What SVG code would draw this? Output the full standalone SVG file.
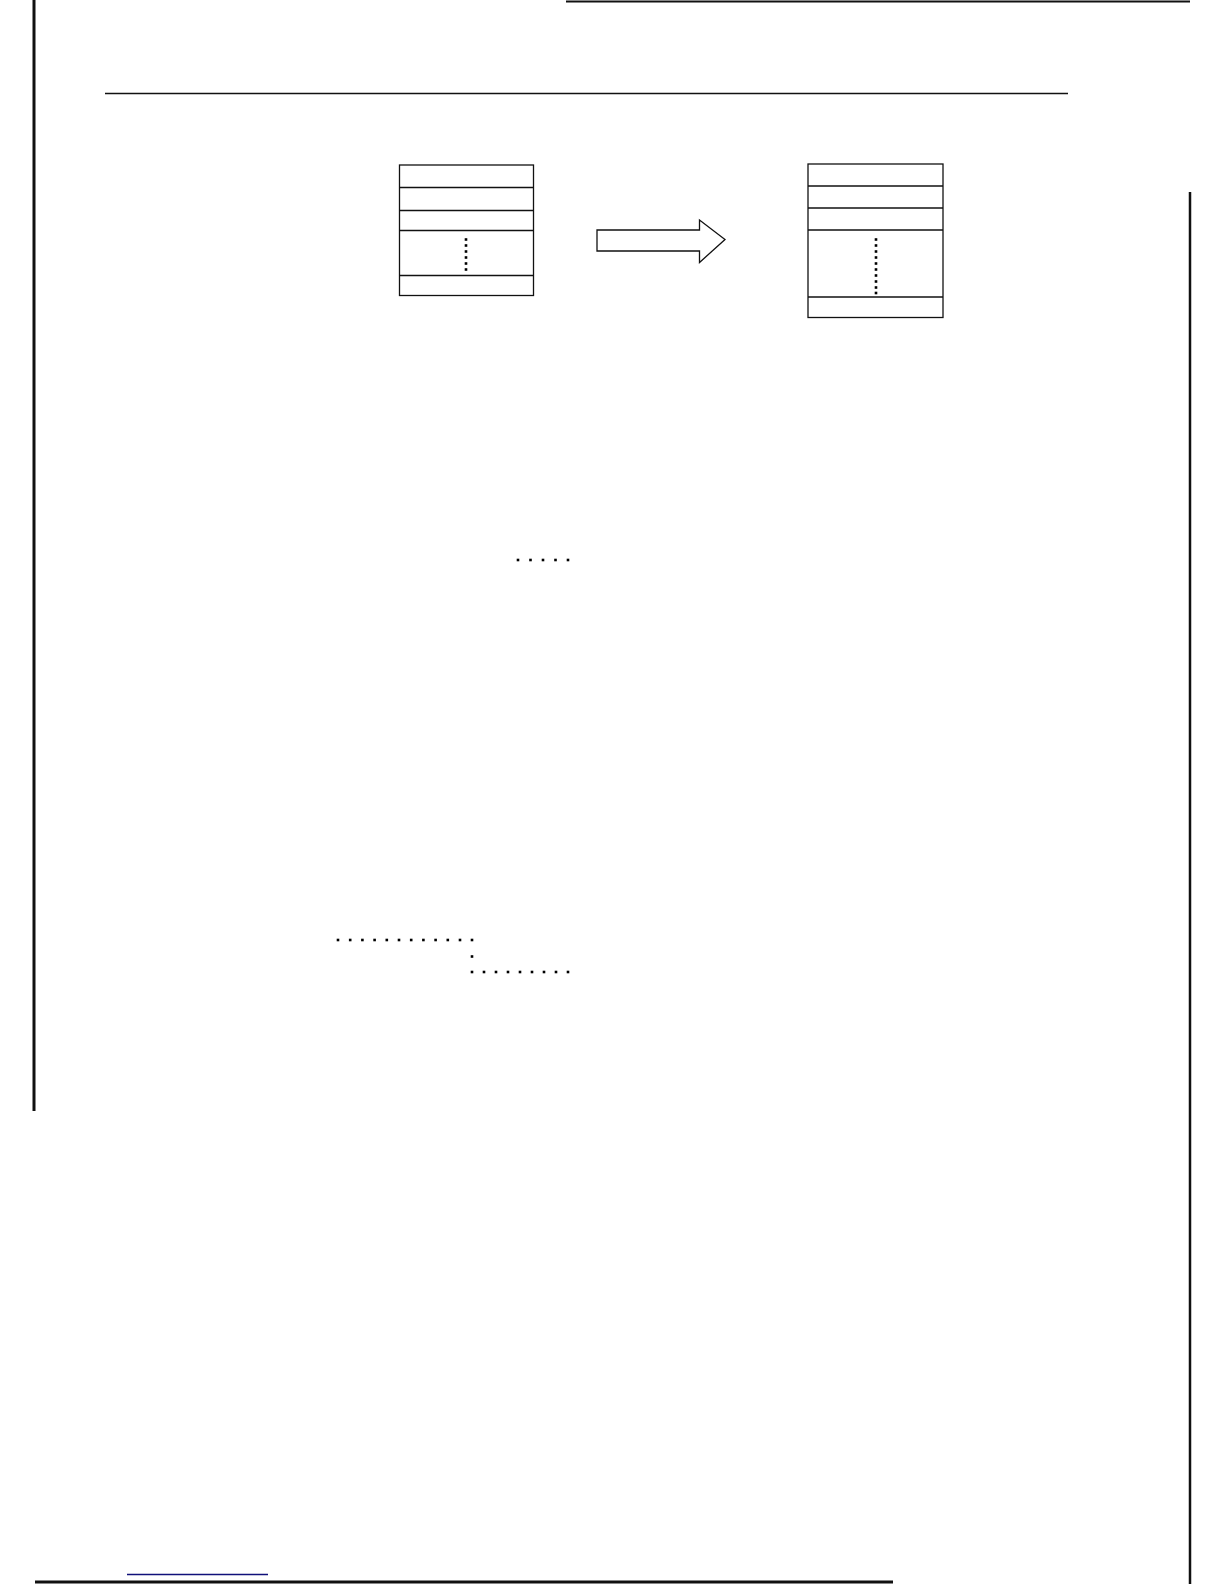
<svg xmlns="http://www.w3.org/2000/svg" width="1224" height="1584" viewBox="0 0 1224 1584">
  <style>
    .box { fill: #ffffff; stroke: #111111; stroke-width: 1.3; }
    .sep { stroke: #111111; stroke-width: 1.3; }
    .dot { fill: #000000; }
    .rule { stroke: #111111; fill: none; }
  </style>
  <defs>
    <rect id="d" class="dot" x="-1.3" y="-1.3" width="2.6" height="2.6"/>
  </defs>
  <rect width="1224" height="1584" fill="#ffffff"/>

  <g id="page-frame">
    <line class="rule" x1="34" y1="0" x2="34" y2="1111" stroke-width="3"/>
    <line class="rule" x1="566" y1="1.5" x2="1190" y2="1.5" stroke-width="2"/>
    <line class="rule" x1="105" y1="93.5" x2="1068" y2="93.5" stroke-width="1.3"/>
    <line class="rule" x1="1190" y1="192" x2="1190" y2="1584" stroke-width="2.5"/>
    <line class="rule" x1="35" y1="1582" x2="893" y2="1582" stroke-width="3"/>
    <line x1="127" y1="1574.5" x2="268" y2="1574.5" stroke="#10107a" stroke-width="1.6"/>
  </g>

  <g id="box-left">
    <rect class="box" x="399.5" y="165" width="134" height="130.5"/>
    <line class="sep" x1="399.5" y1="187.5" x2="533.5" y2="187.5"/>
    <line class="sep" x1="399.5" y1="210.5" x2="533.5" y2="210.5"/>
    <line class="sep" x1="399.5" y1="230.5" x2="533.5" y2="230.5"/>
    <line class="sep" x1="399.5" y1="275.5" x2="533.5" y2="275.5"/>
    <g transform="translate(466,0)">
      <use href="#d" y="239.5"/><use href="#d" y="245.5"/><use href="#d" y="251.5"/>
      <use href="#d" y="257.5"/><use href="#d" y="263.5"/><use href="#d" y="269.5"/>
    </g>
  </g>

  <g id="box-right">
    <rect class="box" x="808" y="164" width="135" height="153.5"/>
    <line class="sep" x1="808" y1="186" x2="943" y2="186"/>
    <line class="sep" x1="808" y1="208" x2="943" y2="208"/>
    <line class="sep" x1="808" y1="230" x2="943" y2="230"/>
    <line class="sep" x1="808" y1="297" x2="943" y2="297"/>
    <g transform="translate(876,0)">
      <use href="#d" y="239.5"/><use href="#d" y="245.5"/><use href="#d" y="251.5"/>
      <use href="#d" y="257.5"/><use href="#d" y="263.5"/><use href="#d" y="269.5"/>
      <use href="#d" y="275.5"/><use href="#d" y="281.5"/><use href="#d" y="287.5"/>
      <use href="#d" y="293"/>
    </g>
  </g>

  <g id="connectors">
    <polygon points="597,230 699.5,230 699.5,220 725,239.5 699.5,262.5 699.5,251 597,251" fill="#ffffff" stroke="#111111" stroke-width="1.3" stroke-linejoin="miter"/>
  </g>

  <g id="leader-dots">
    <g transform="translate(0,560)">
      <use href="#d" x="518"/><use href="#d" x="530.5"/><use href="#d" x="543"/><use href="#d" x="555.5"/><use href="#d" x="568"/>
    </g>
    <g transform="translate(0,940)">
      <use href="#d" x="338"/><use href="#d" x="350.2"/><use href="#d" x="362.4"/><use href="#d" x="374.6"/>
      <use href="#d" x="386.8"/><use href="#d" x="399"/><use href="#d" x="411.2"/><use href="#d" x="423.4"/>
      <use href="#d" x="435.6"/><use href="#d" x="447.8"/><use href="#d" x="460"/><use href="#d" x="472"/>
    </g>
    <use href="#d" x="472" y="956.5"/>
    <g transform="translate(0,972)">
      <use href="#d" x="472"/><use href="#d" x="484"/><use href="#d" x="496"/><use href="#d" x="508"/>
      <use href="#d" x="520"/><use href="#d" x="532"/><use href="#d" x="544"/><use href="#d" x="556"/>
      <use href="#d" x="568"/>
    </g>
  </g>
</svg>
